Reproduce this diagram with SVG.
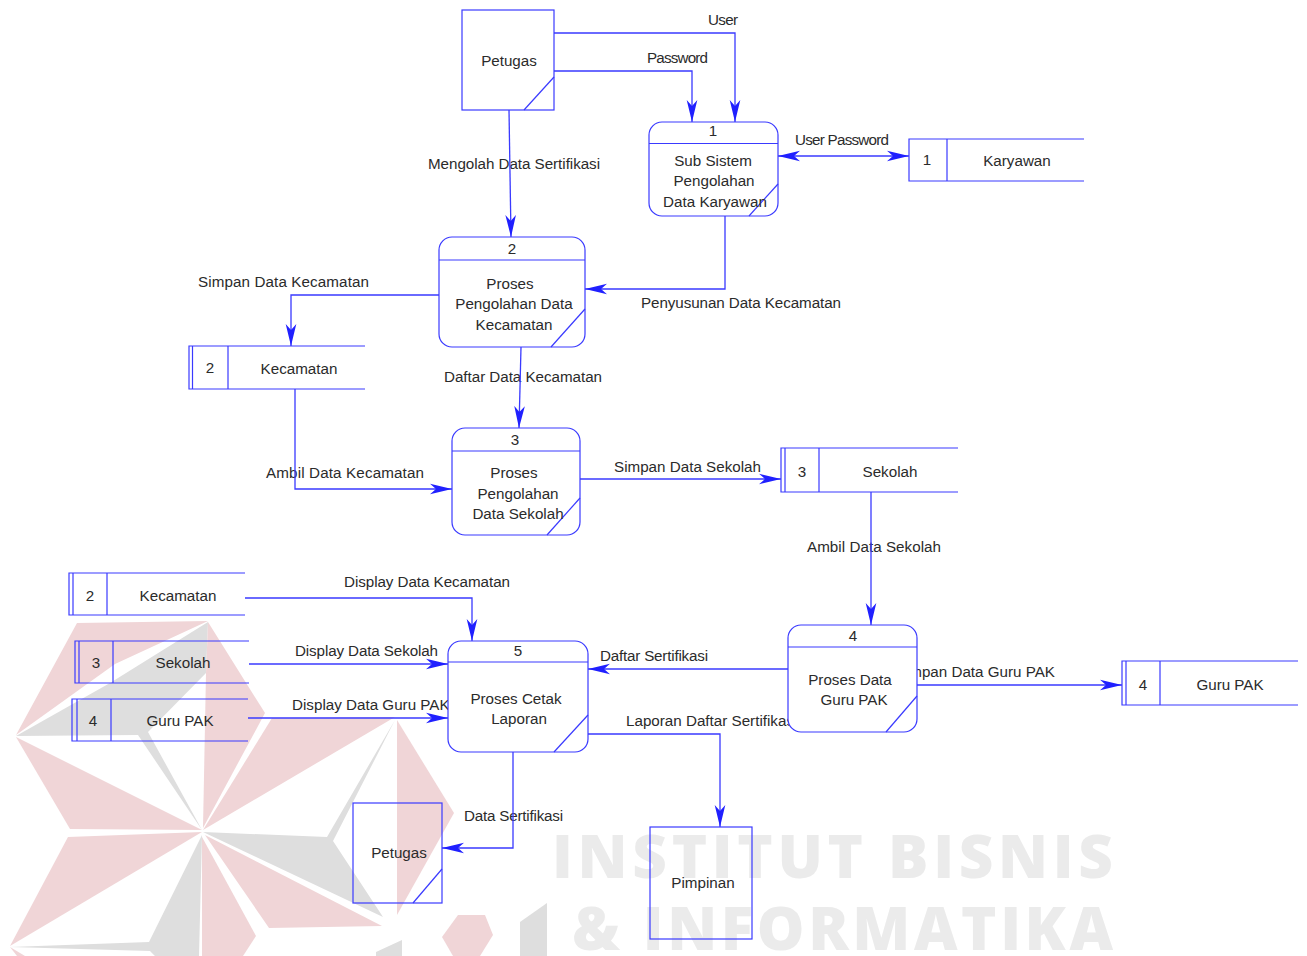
<svg xmlns="http://www.w3.org/2000/svg" width="1307" height="956" viewBox="0 0 1307 956">
<style>
text{font-family:"Liberation Sans",Arial,sans-serif;font-size:15.2px;fill:#2b2b2b}
.m{text-anchor:middle}
.s{fill:none;stroke:#3a3aff;stroke-width:1.2}
.p{fill:#fff;stroke:#3a3aff;stroke-width:1.2}
.o{fill:none;stroke:#3a3aff;stroke-width:1.2}
.c{fill:none;stroke:#3a3aff;stroke-width:1.3;marker-end:url(#a)}
.wr{fill:#f0d5d7}
.wg{fill:#dedede}
.wt{font-family:"Open Sans",sans-serif;font-weight:800;font-size:60px;fill:#ebebeb}
</style>
<defs>
<marker id="a" markerUnits="userSpaceOnUse" markerWidth="24" markerHeight="14" refX="22" refY="6" orient="auto"><path d="M22 6L0 .7L6 6L0 11.300z" fill="#2020ff"/></marker>
<marker id="b" markerUnits="userSpaceOnUse" markerWidth="24" markerHeight="14" refX="22" refY="6" orient="auto-start-reverse"><path d="M22 6L0 .7L6 6L0 11.300z" fill="#2020ff"/></marker>
</defs>
<rect width="1307" height="956" fill="#fff"/>
<g id="watermark">
<polygon class="wr" points="77,623 208,621 115,664 16,735"/>
<polygon class="wg" points="208,622 206,673 148,732 202,830 138,735 16,736 110,683"/>
<polygon class="wr" points="208,622 265,713 203,828 206,673"/>
<polygon class="wr" points="16,737 202,830 70,829"/>
<polygon class="wr" points="395,717 272,718 203,830"/>
<polygon class="wg" points="395,720 327,837 203,832 383,917 333,841"/>
<polygon class="wr" points="397,720 454,813 397,915"/>
<polygon class="wr" points="205,835 382,926 269,928"/>
<polygon class="wr" points="202,832 68,837 10,946"/>
<polygon class="wg" points="202,835 149,942 10,947 150,951 155,956 199,956"/>
<polygon class="wr" points="202,837 256,936 243,956 202,956"/>
<polygon class="wr" points="10,947 25,956 17,956"/>
<polygon class="wr" points="442,937 458,915 485,915 493,935 480,956 453,956"/>
<polygon class="wg" points="520,922 547,903 547,956 520,956"/>
<polygon class="wg" points="376,952 402,940 402,956 376,956"/>
<text class="wt" x="552" y="878" textLength="561" lengthAdjust="spacing">INSTITUT BISNIS</text>
<text class="wt" x="572" y="950" textLength="541" lengthAdjust="spacing">&amp; INFORMATIKA</text>
</g>
<g id="labels">
<text x="708" y="25" textLength="30">User</text>
<text x="647" y="63" textLength="61">Password</text>
<text x="428" y="169" textLength="172">Mengolah Data Sertifikasi</text>
<text x="795" y="145" textLength="94">User Password</text>
<text x="198" y="287" textLength="171">Simpan Data Kecamatan</text>
<text x="641" y="308" textLength="200">Penyusunan Data Kecamatan</text>
<text x="444" y="382" textLength="158">Daftar Data Kecamatan</text>
<text x="266" y="478" textLength="158">Ambil Data Kecamatan</text>
<text x="614" y="472" textLength="147">Simpan Data Sekolah</text>
<text x="807" y="552" textLength="134">Ambil Data Sekolah</text>
<text x="344" y="587" textLength="166">Display Data Kecamatan</text>
<text x="295" y="656" textLength="143">Display Data Sekolah</text>
<text x="292" y="710">Display Data Guru PAK</text>
<text x="600" y="661" textLength="108">Daftar Sertifikasi</text>
<text x="1055" y="677" text-anchor="end">Simpan Data Guru PAK</text>
<text x="626" y="726">Laporan Daftar Sertifikasi</text>
<text x="464" y="821" textLength="99">Data Sertifikasi</text>
</g>
<g id="connectors">
<polyline class="c" points="554,33 735,33 735,122"/>
<polyline class="c" points="554,71 692,71 692,122"/>
<polyline class="c" points="509,110 511,237"/>
<line x1="778" y1="156" x2="909" y2="156" class="c" style="marker-start:url(#b);marker-end:url(#b)"/>
<polyline class="c" points="725,216 725,289 585,289"/>
<polyline class="c" points="439,295 291,295 291,346"/>
<polyline class="c" points="521,347 519,428"/>
<polyline class="c" points="295,389 295,489 452,489"/>
<polyline class="c" points="580,479 781,479"/>
<polyline class="c" points="871,492 871,625"/>
<polyline class="c" points="245,598 472,598 472,641"/>
<polyline class="c" points="249,664 448,664"/>
<polyline class="c" points="248,718 448,718"/>
<polyline class="c" points="788,669 588,669"/>
<polyline class="c" points="917,685 1122,685"/>
<polyline class="c" points="588,734 720,734 720,827"/>
<polyline class="c" points="513,752 513,848 442,848"/>
</g>
<g id="ext-petugas-1"><rect class="o" x="462" y="10" width="92" height="100"/><line class="o" x1="524" y1="110" x2="554" y2="77"/><text class="m" x="509" y="66">Petugas</text></g>
<g id="proc-1"><rect class="p" x="649" y="122" width="129" height="94" rx="13"/><line class="o" x1="649" y1="143.500" x2="778" y2="143.500"/><line class="o" x1="749" y1="216" x2="778" y2="184"/><text class="m" x="713" y="136">1</text><text class="m" x="713" y="166">Sub Sistem</text><text class="m" x="714" y="186">Pengolahan</text><text class="m" x="715" y="207">Data Karyawan</text></g>
<g id="proc-2"><rect class="p" x="439" y="237" width="146" height="110" rx="13"/><line class="o" x1="439" y1="260" x2="585" y2="260"/><line class="o" x1="551" y1="347" x2="585" y2="309"/><text class="m" x="512" y="254">2</text><text class="m" x="510" y="289">Proses</text><text class="m" x="514" y="309">Pengolahan Data</text><text class="m" x="514" y="330">Kecamatan</text></g>
<g id="proc-3"><rect class="p" x="452" y="428" width="128" height="107" rx="13"/><line class="o" x1="452" y1="451" x2="580" y2="451"/><line class="o" x1="547" y1="535" x2="580" y2="498"/><text class="m" x="515" y="445">3</text><text class="m" x="514" y="478">Proses</text><text class="m" x="518" y="499">Pengolahan</text><text class="m" x="518" y="519">Data Sekolah</text></g>
<g id="proc-4"><rect class="p" x="788" y="625" width="129" height="107" rx="13"/><line class="o" x1="788" y1="647" x2="917" y2="647"/><line class="o" x1="886" y1="732" x2="917" y2="696"/><text class="m" x="853" y="641">4</text><text class="m" x="850" y="685">Proses Data</text><text class="m" x="854" y="705">Guru PAK</text></g>
<g id="proc-5"><rect class="p" x="448" y="641" width="140" height="111" rx="13"/><line class="o" x1="448" y1="662" x2="588" y2="662"/><line class="o" x1="554" y1="752" x2="588" y2="715"/><text class="m" x="518" y="656">5</text><text class="m" x="516" y="704">Proses Cetak</text><text class="m" x="519" y="724">Laporan</text></g>
<g id="ext-petugas-2"><rect class="o" x="353" y="803" width="89" height="100"/><line class="o" x1="413" y1="903" x2="442" y2="869"/><text class="m" x="399" y="858">Petugas</text></g>
<g id="ext-pimpinan"><rect class="o" x="650" y="827" width="102" height="112"/><text class="m" x="703" y="888">Pimpinan</text></g>
<g id="store-karyawan"><path class="s" d="M1084 139H909V181H1084M947 139V181"/><text class="m" x="927" y="165">1</text><text class="m" x="1017" y="166">Karyawan</text></g>
<g id="store-kecamatan-1"><path class="s" d="M365 346H189V389H365M192.500 346V389M228 346V389"/><text class="m" x="210" y="373">2</text><text class="m" x="299" y="374">Kecamatan</text></g>
<g id="store-sekolah-1"><path class="s" d="M958 448H781V492H958M785 448V492M819 448V492"/><text class="m" x="802" y="477">3</text><text class="m" x="890" y="477">Sekolah</text></g>
<g id="store-kecamatan-2"><path class="s" d="M245 573H69V615H245M73 573V615M107 573V615"/><text class="m" x="90" y="601">2</text><text class="m" x="178" y="601">Kecamatan</text></g>
<g id="store-sekolah-2"><path class="s" d="M249 641H75V683H249M79 641V683M113 641V683"/><text class="m" x="96" y="668">3</text><text class="m" x="183" y="668">Sekolah</text></g>
<g id="store-guru-1"><path class="s" d="M248 699H72V741H248M77 699V741M111 699V741"/><text class="m" x="93" y="726">4</text><text class="m" x="180" y="726">Guru PAK</text></g>
<g id="store-guru-2"><path class="s" d="M1298 661H1122V705H1298M1126 661V705M1160 661V705"/><text class="m" x="1143" y="690">4</text><text class="m" x="1230" y="690">Guru PAK</text></g>
</svg>
